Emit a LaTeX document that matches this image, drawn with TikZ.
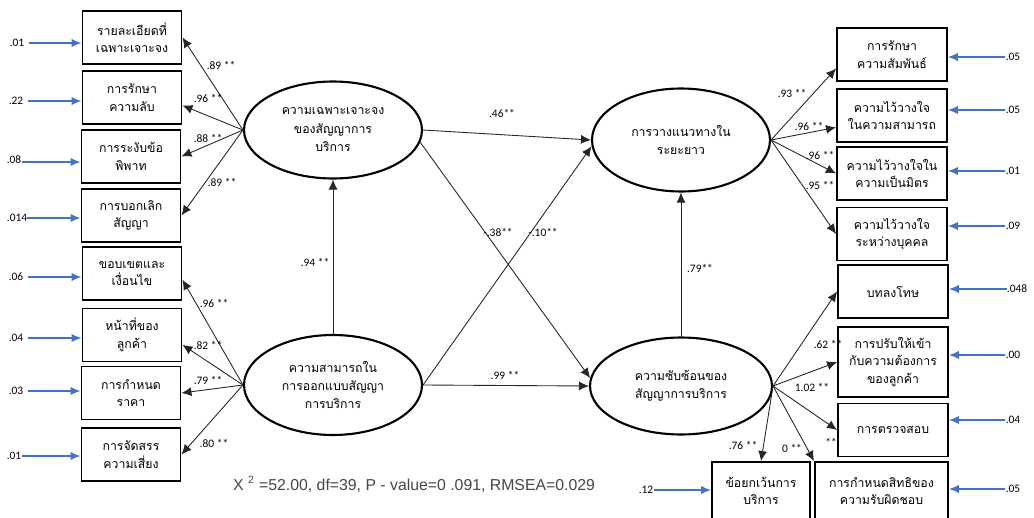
\documentclass[tikz,border=0pt]{standalone}
\usepackage{fontspec}
\setmainfont{Liberation Sans}
\newfontfamily\thaifont[Script=Thai]{Loma}
\newfontfamily\numfont{Carlito}
\usetikzlibrary{shapes.geometric,arrows.meta}
\definecolor{errblue}{RGB}{68,114,196}
\definecolor{fitgray}{RGB}{70,70,70}

\begin{document}
\begin{tikzpicture}[x=0.02cm, y=-0.02cm,
  latent/.style={ellipse, draw, line width=1.2pt, minimum width=3.56cm,
    minimum height=1.94cm, inner sep=0pt, align=center,
    font=\thaifont\fontsize{7}{10.5}\selectfont},
  obs/.style={draw, line width=1.1pt, minimum width=1.98cm, minimum height=1.06cm,
    inner sep=1pt, align=center, font=\thaifont\fontsize{7}{10}\selectfont},
  obsr/.style={obs, minimum width=2.2cm},
  link/.style={draw, black!85, line width=0.5pt, -{Latex[length=2mm,width=1.8mm]}},
  err/.style={draw, errblue, line width=0.9pt, -{Latex[length=2mm,width=1.7mm]}},
  coef/.style={font=\numfont\fontsize{6.5}{7}\selectfont, inner sep=0pt},
  errval/.style={font=\numfont\fontsize{6.5}{7}\selectfont, inner sep=0pt}]
  \useasboundingbox (0,0) rectangle (1034,517);

  \node[latent] (spec) at (333,130) {ความเฉพาะเจาะจง\\ของสัญญาการ\\บริการ};
  \node[latent, minimum height=2cm] (design) at (333,385) {ความสามารถใน\\การออกแบบสัญญา\\การบริการ};
  \node[latent, minimum height=2.06cm] (longterm) at (681,140) {การวางแนวทางใน\\ระยะยาว};
  \node[latent, minimum width=3.64cm] (complex) at (681,386) {ความซับซ้อนของ\\สัญญาการบริการ};

  \node[obs] (b1) at (132,37.5) {รายละเอียดที่\\เฉพาะเจาะจง};
  \node[obs] (b2) at (132,97.5) {การรักษา\\ความลับ};
  \node[obs] (b3) at (131,156.5) {การระงับข้อ\\พิพาท};
  \node[obs] (b4) at (131,215.5) {การบอกเลิก\\สัญญา};
  \node[obs] (b5) at (132,273.5) {ขอบเขตและ\\เงื่อนไข};
  \node[obs] (b6) at (132,335) {หน้าที่ของ\\ลูกค้า};
  \node[obs] (b7) at (131,393) {การกำหนด\\ราคา};
  \node[obs] (b8) at (131,454.5) {การจัดสรร\\ความเสี่ยง};

  \node[obsr] (r1) at (892,54.5) {การรักษา\\ความสัมพันธ์};
  \node[obsr] (r2) at (892,115.5) {ความไว้วางใจ\\ในความสามารถ};
  \node[obsr] (r3) at (892,173.5) {ความไว้วางใจใน\\ความเป็นมิตร};
  \node[obsr] (r4) at (892,234) {ความไว้วางใจ\\ระหว่างบุคคล};
  \node[obsr] (r5) at (893,291.5) {บทลงโทษ};
  \node[obsr, minimum height=1.4cm] (r6) at (893,362) {การปรับให้เข้า\\กับความต้องการ\\ของลูกค้า};
  \node[obsr] (r7) at (893,430) {การตรวจสอบ};
  \node[obs, minimum width=2.66cm, minimum height=1.16cm] (r8) at (881.5,491) {การกำหนดสิทธิของ\\ความรับผิดชอบ};
  \node[obs, minimum width=1.96cm, minimum height=1.16cm] (r9) at (761,491) {ข้อยกเว้นการ\\บริการ};

  \draw[link] (spec.west) -- (b1.east);
  \draw[link] (spec.west) -- (b2.-9);
  \draw[link] (spec.west) -- (b3.east);
  \draw[link] (spec.west) -- (b4.east);
  \draw[link] (design.west) -- (b5.-7);
  \draw[link] (design.west) -- (b6.-11);
  \draw[link] (design.west) -- (b7.east);
  \draw[link] (design.west) -- (b8.east);

  \draw[link] (design.north) -- (spec.south);
  \draw[link] (spec.east) -- (longterm.west);
  \draw[link] (spec.-8) -- (complex.175);
  \draw[link] (design.east) -- (longterm.184);
  \draw[link] (design.east) -- (complex.west);
  \draw[link] (complex.north) -- (longterm.south);

  \draw[link] (longterm.east) -- (r1.194);
  \draw[link] (longterm.east) -- (r2.192);
  \draw[link] (longterm.east) -- (r3.west);
  \draw[link] (longterm.east) -- (r4.west);
  \draw[link] (complex.east) -- (r5.west);
  \draw[link] (complex.east) -- (r6.west);
  \draw[link] (complex.east) -- (r7.west);
  \draw[link] (complex.east) -- (r8.north west);
  \draw[link] (complex.east) -- (r9.north);

  \node[coef] (c1) at (221,65) {.89 **};
  \node[coef] (c2) at (208,98) {.96 **};
  \node[coef] (c3) at (208,138) {.88 **};
  \node[coef] (c4) at (222,182) {.89 **};
  \node[coef] (c5) at (214,303) {.96 **};
  \node[coef] (c6) at (208,345) {.82 **};
  \node[coef] (c7) at (208,380) {.79 **};
  \node[coef] (c8) at (214,443) {.80 **};
  \node[coef] (c9) at (315,262) {.94 **};
  \node[coef] (c10) at (502,113) {.46**};
  \node[coef] (c11) at (498,232) {-.38**};
  \node[coef] (c12) at (543,232) {-.10**};
  \node[coef] (c13) at (505,375) {.99 **};
  \node[coef] (c14) at (700,268) {.79**};
  \node[coef] (c15) at (792,93) {.93 **};
  \node[coef] (c16) at (809,126) {.96 **};
  \node[coef] (c17) at (820,155) {.96 **};
  \node[coef] (c18) at (820,185) {.95 **};
  \node[coef] (c19) at (828,344) {.62 **};
  \node[coef] (c20) at (812,387) {1.02 **};
  \node[coef] (c21) at (831,442) {**};
  \node[coef] (c22) at (743,445) {.76 **};
  \node[coef] (c23) at (792,448) {0 **};

  \node[errval] (e1) at (17,43) {.01};
  \node[errval] (e2) at (16,101) {.22};
  \node[errval] (e3) at (14,160) {.08};
  \node[errval] (e4) at (17,218) {.014};
  \node[errval] (e5) at (16,277) {.06};
  \node[errval] (e6) at (16,338) {.04};
  \node[errval] (e7) at (16,391) {.03};
  \node[errval] (e8) at (14,456) {.01};
  \draw[err] (e1.east) ++(4,0) -- (e1 -| b1.west);
  \draw[err] (e2.east) ++(4,0) -- (e2 -| b2.west);
  \draw[err] (e3.east) ++(0,2) -- ([yshift=-2*0.02cm]e3 -| b3.west);
  \draw[err] (e4.east) -- (e4 -| b4.west);
  \draw[err] (e5.east) ++(4,0) -- (e5 -| b5.west);
  \draw[err] (e6.east) ++(4,0) -- (e6 -| b6.west);
  \draw[err] (e7.east) ++(4,0) -- (e7 -| b7.west);
  \draw[err] (e8.east) -- (e8 -| b8.west);

  \node[errval] (f1) at (1013,57) {.05};
  \node[errval] (f2) at (1013,110) {.05};
  \node[errval] (f3) at (1013,171) {.01};
  \node[errval] (f4) at (1013,226) {.09};
  \node[errval] (f5) at (1017,289) {.048};
  \node[errval] (f6) at (1013,355) {.00};
  \node[errval] (f7) at (1013,420) {.04};
  \node[errval] (f8) at (1013,489) {.05};
  \node[errval] (f9) at (646,490) {.12};
  \draw[err] (f1.west) -- (f1 -| r1.east);
  \draw[err] (f2.west) -- (f2 -| r2.east);
  \draw[err] (f3.west) -- (f3 -| r3.east);
  \draw[err] (f4.west) -- (f4 -| r4.east);
  \draw[err] (f5.west) -- (f5 -| r5.east);
  \draw[err] (f6.west) -- (f6 -| r6.east);
  \draw[err] (f7.west) -- (f7 -| r7.east);
  \draw[err] (f8.west) -- (f8 -| r8.east);
  \draw[err] (f9.east) -- (f9 -| r9.west);

  \node[text=fitgray, font=\fontsize{9}{10}\selectfont, inner sep=0pt] (fit) at (414,484)
    {X \textsuperscript{2} =52.00, df=39, P - value=0 .091, RMSEA=0.029};
\end{tikzpicture}
\end{document}
